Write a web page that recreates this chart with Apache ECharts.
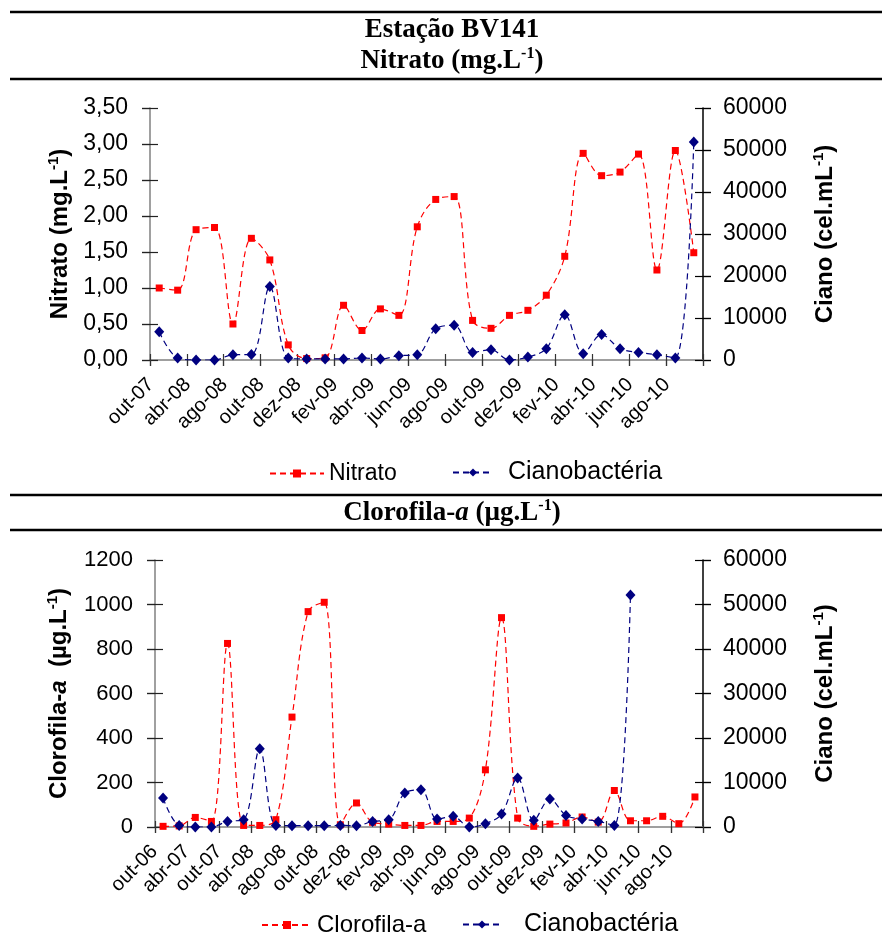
<!DOCTYPE html>
<html>
<head>
<meta charset="utf-8">
<script src="https://cdn.jsdelivr.net/npm/echarts@6/dist/echarts.min.js"></script>
<style>
  html, body { margin: 0; padding: 0; background: #fff; }
  #chart { width: 882px; height: 939px; }
</style>
</head>
<body>
<div id="chart"></div>
<script>
// ---- Nitrato panel (monthly samples) ----
const nitratoMonths = ['out-07','jan-08','abr-08','jun-08','ago-08','set-08','out-08','nov-08','dez-08','jan-09',
  'fev-09','mar-09','abr-09','mai-09','jun-09','jul-09','ago-09','set-09','out-09','nov-09',
  'dez-09','jan-10','fev-10','mar-10','abr-10','mai-10','jun-10','jul-10','ago-10','set-10'];
const nitrato = [1.00, 0.97, 1.81, 1.84, 0.50, 1.69, 1.39, 0.21, 0.02, 0.03,
  0.76, 0.41, 0.71, 0.62, 1.85, 2.23, 2.27, 0.55, 0.44, 0.62,
  0.69, 0.90, 1.44, 2.87, 2.56, 2.61, 2.86, 1.25, 2.91, 1.49];
const cianoNitratoPanel = [6700, 480, 0, 0, 1260, 1300, 17500, 480, 250, 250,
  250, 480, 250, 1020, 1260, 7450, 8250, 1810, 2450, 0,
  710, 2700, 10800, 1500, 6050, 2700, 1810, 1260, 480, 51900];

// ---- Clorofila-a panel ----
const clorofilaMonths = ['out-06','jan-07','abr-07','jul-07','out-07','jan-08','abr-08','jun-08','ago-08','set-08',
  'out-08','nov-08','dez-08','jan-09','fev-09','mar-09','abr-09','mai-09','jun-09','jul-09',
  'ago-09','set-09','out-09','nov-09','dez-09','jan-10','fev-10','mar-10','abr-10','mai-10',
  'jun-10','jul-10','ago-10','set-10'];
const clorofila = [3, 5, 43, 25, 825, 7, 7, 33, 494, 968,
  1010, 10, 108, 21, 13, 7, 7, 25, 25, 40,
  257, 941, 40, 3, 13, 18, 45, 22, 164, 28,
  28, 48, 15, 135];
const cianoClorofilaPanel = [6510, 360, 0, 0, 1260, 1640, 17580, 360, 290, 290,
  290, 360, 290, 1260, 1640, 7630, 8370, 1790, 2390, 0,
  740, 2920, 11000, 1490, 6280, 2610, 1790, 1260, 360, 52150];

// axis ranges
const nitratoAxis = { min: 0, max: 3.5, interval: 0.5 };
const clorofilaAxis = { min: 0, max: 1200, interval: 200 };
const cianoAxis = { min: 0, max: 60000, interval: 10000 };

const RED = '#ff0000';
const NAVY = '#000080';
const SANS = '"Liberation Sans", Arial, sans-serif';
const SERIF = '"Liberation Serif", "Times New Roman", serif';

const chart = echarts.init(document.getElementById('chart'), null, { renderer: 'canvas' });

const panelRects = [
  { left: 150, right: 179, top: 108, height: 252 },
  { left: 155, right: 179, top: 560, height: 267 }
];
const Y_TICK = 8;   // half length of the crossing value-axis ticks
const X_TICK = 6;   // half length of the crossing category-axis ticks

// Helper grids: the same panels narrowed by Y_TICK on both sides (for the
// value-axis ticks) or lifted by X_TICK (for the category-axis ticks).
// Their outward ticks, twice as long, straddle the real axis lines.
const yTickRects = panelRects.map(r => ({ ...r, left: r.left + Y_TICK, right: r.right + Y_TICK }));
const xTickRects = panelRects.map(r => ({ ...r, top: r.top - X_TICK }));
const grids = [...panelRects, ...yTickRects, ...xTickRects];   // 0,1 | 2,3 | 4,5

const GREY_LINE = { color: '#808080', width: 1.5 };
const BLACK_LINE = { color: '#000', width: 1.5 };
const CLEAR_LINE = { color: 'rgba(0,0,0,0)', width: 1 };

function mainXAxis(gridIndex, cats) {
  return { type: 'category', gridIndex, data: cats, boundaryGap: true, position: 'bottom',
    axisLine: { show: true, onZero: false, lineStyle: GREY_LINE },
    axisTick: { show: true, interval: 1, length: X_TICK, lineStyle: { color: '#333', width: 1.2 } },
    axisLabel: { interval: 1, rotate: 45, fontSize: 20, fontFamily: SANS, color: '#000',
      margin: 13, padding: [0, 12, 0, 0] },
    splitLine: { show: false } };
}
function tickXAxis(gridIndex, cats) {
  return { type: 'category', gridIndex, data: cats, boundaryGap: true, position: 'bottom',
    axisLine: { show: true, onZero: false, lineStyle: CLEAR_LINE },
    axisTick: { show: true, interval: 1, length: 2 * X_TICK, lineStyle: { color: '#333', width: 1.2 } },
    axisLabel: { show: false }, splitLine: { show: false } };
}
function hiddenXAxis(gridIndex, cats) {
  return { type: 'category', gridIndex, data: cats, show: false };
}

const supRich = () => ({
  b: { fontSize: 24, fontWeight: 'bold', fontFamily: SANS, color: '#000', lineHeight: 28 },
  i: { fontSize: 24, fontWeight: 'bold', fontStyle: 'italic', fontFamily: SANS, color: '#000', lineHeight: 28 },
  s: { fontSize: 15, fontWeight: 'bold', fontFamily: SANS, color: '#000', verticalAlign: 'top', lineHeight: 14 }
});

function mainLeftAxis(gridIndex, range, fmt, name, gap, font) {
  return { type: 'value', gridIndex, position: 'left', ...range,
    axisLine: { show: true, onZero: false, lineStyle: GREY_LINE },
    axisTick: { show: true, length: Y_TICK, lineStyle: { color: '#222', width: 1.2 } },
    axisLabel: { formatter: fmt, fontSize: font, fontFamily: SANS, color: '#000', margin: 22 },
    splitLine: { show: false },
    name, nameLocation: 'middle', nameRotate: 90, nameGap: gap, nameTextStyle: { rich: supRich() } };
}
function mainRightAxis(gridIndex) {
  return { type: 'value', gridIndex, position: 'right', ...cianoAxis,
    axisLine: { show: true, onZero: false, lineStyle: BLACK_LINE },
    axisTick: { show: true, length: Y_TICK, lineStyle: { color: '#000', width: 1.2 } },
    axisLabel: { formatter: v => String(v), fontSize: 23, fontFamily: SANS, color: '#000', margin: 20 },
    splitLine: { show: false },
    name: '{b|Ciano (cel.mL}{s|-1}{b|)}', nameLocation: 'middle', nameRotate: 90,
    nameGap: 108, nameTextStyle: { rich: supRich() } };
}
function tickYAxis(gridIndex, range, position, color) {
  return { type: 'value', gridIndex, position, ...range,
    axisLine: { show: true, onZero: false, lineStyle: CLEAR_LINE },
    axisTick: { show: true, length: 2 * Y_TICK, lineStyle: { color, width: 1.2 } },
    axisLabel: { show: false }, splitLine: { show: false } };
}
function hiddenYAxis(gridIndex, range) {
  return { type: 'value', gridIndex, ...range, show: false };
}

const fmtNitrato = v => v.toFixed(2).replace('.', ',');
const fmtPlain = v => String(v);
const nameNitrato = '{b|Nitrato (mg.L}{s|-1}{b|)}';
const nameClorofila = '{b|Clorofila-}{i|a}{b|  (µg.L}{s|-1}{b|)}';

const xAxes = [
  mainXAxis(0, nitratoMonths),       // 0
  mainXAxis(1, clorofilaMonths),     // 1
  hiddenXAxis(2, nitratoMonths),     // 2
  hiddenXAxis(3, clorofilaMonths),   // 3
  tickXAxis(4, nitratoMonths),       // 4
  tickXAxis(5, clorofilaMonths)      // 5
];
const yAxes = [
  mainLeftAxis(0, nitratoAxis, fmtNitrato, nameNitrato, 76, 23),     // 0
  mainRightAxis(0),                                                  // 1
  mainLeftAxis(1, clorofilaAxis, fmtPlain, nameClorofila, 82, 22),   // 2
  mainRightAxis(1),                                                  // 3
  tickYAxis(2, nitratoAxis, 'left', '#222'),                         // 4
  tickYAxis(2, cianoAxis, 'right', '#000'),                          // 5
  tickYAxis(3, clorofilaAxis, 'left', '#222'),                       // 6
  tickYAxis(3, cianoAxis, 'right', '#000'),                          // 7
  hiddenYAxis(4, nitratoAxis),                                       // 8
  hiddenYAxis(5, clorofilaAxis)                                      // 9
];

const dash = [6, 4];
function redSeries(name, data, xi, yi) {
  return { name, type: 'line', data, xAxisIndex: xi, yAxisIndex: yi,
    smooth: 0.35, symbol: 'rect', symbolSize: 7, showAllSymbol: true,
    itemStyle: { color: RED }, lineStyle: { color: RED, width: 1.2, type: dash }, z: 2 };
}
function navySeries(name, data, xi, yi) {
  return { name, type: 'line', data, xAxisIndex: xi, yAxisIndex: yi,
    smooth: 0.35, symbol: 'diamond', symbolSize: [10, 11], showAllSymbol: true,
    itemStyle: { color: NAVY }, lineStyle: { color: NAVY, width: 1.2, type: dash }, z: 3 };
}
// empty series that keep the tick-only grids populated
function tickCarrier(xi, yi) {
  return { type: 'line', data: [], xAxisIndex: xi, yAxisIndex: yi, silent: true };
}

function legend(name, left, top, width, fontSize, gap) {
  return { data: [name], left, top, padding: 0, orient: 'horizontal', selectedMode: false,
    itemWidth: width, itemHeight: 10,
    textStyle: { fontSize, fontFamily: SANS, color: '#000', padding: [0, 0, 0, gap] } };
}

const titleRich = {
  b: { fontSize: 27, fontWeight: 'bold', fontFamily: SERIF, color: '#000', lineHeight: 30 },
  i: { fontSize: 27, fontWeight: 'bold', fontStyle: 'italic', fontFamily: SERIF, color: '#000', lineHeight: 30 },
  s: { fontSize: 16, fontWeight: 'bold', fontFamily: SERIF, color: '#000', verticalAlign: 'top', lineHeight: 16 }
};

function hline(y, x1, x2, w) {
  return { type: 'line', shape: { x1, y1: y, x2, y2: y }, style: { stroke: '#000', lineWidth: w }, silent: true };
}
function titleText(text, y) {
  return { type: 'text', x: 452, y, silent: true,
    style: { text, rich: titleRich, align: 'center', verticalAlign: 'middle', fill: '#000' } };
}

const option = {
  animation: false,
  backgroundColor: '#fff',
  grid: grids,
  xAxis: xAxes,
  yAxis: yAxes,
  legend: [
    legend('Nitrato', 269, 462, 54, 23, 0),
    legend('Cianobactéria', 452, 460, 40, 25, 10),
    legend('Clorofila-a', 261, 913, 50, 24, 0),
    legend('Cianobactéria', 462, 912, 38, 25, 18)
  ],
  series: [
    redSeries('Nitrato', nitrato, 0, 0),
    navySeries('Cianobactéria', cianoNitratoPanel, 0, 1),
    redSeries('Clorofila-a', clorofila, 1, 2),
    navySeries('Cianobactéria', cianoClorofilaPanel, 1, 3),
    tickCarrier(2, 4),
    tickCarrier(2, 5),
    tickCarrier(3, 6),
    tickCarrier(3, 7),
    tickCarrier(4, 8),
    tickCarrier(5, 9)
  ],
  graphic: [
    hline(12, 10, 882, 2.5),
    hline(79, 10, 882, 2.5),
    hline(495, 10, 882, 2.5),
    hline(530, 10, 882, 2.5),
    titleText('{b|Estação BV141}', 30),
    titleText('{b|Nitrato (mg.L}{s|-1}{b|)}', 61),
    titleText('{b|Clorofila-}{i|a}{b| (µg.L}{s|-1}{b|)}', 513)
  ]
};

chart.setOption(option);
</script>
</body>
</html>
